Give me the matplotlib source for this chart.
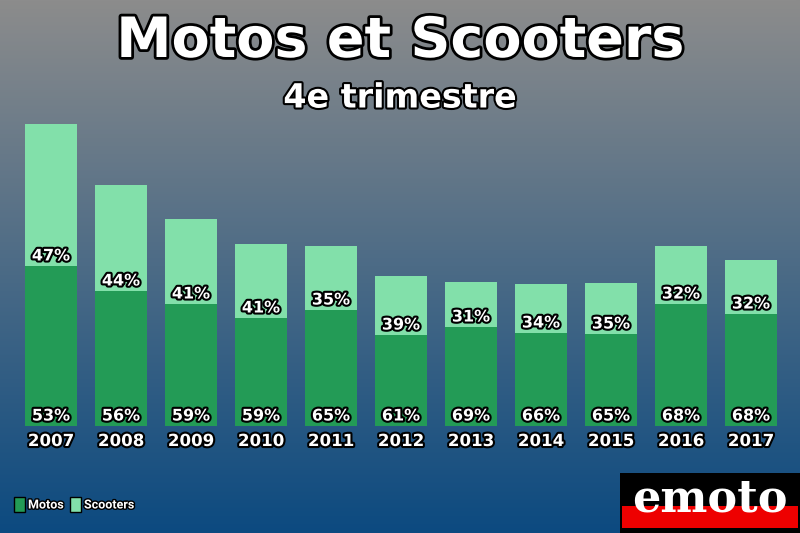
import matplotlib
matplotlib.use("Agg")
from matplotlib import pyplot as plt
import matplotlib.patheffects as pe
import numpy

years = ['2007', '2008', '2009', '2010', '2011', '2012', '2013', '2014', '2015', '2016', '2017']
motos = [160, 135, 122, 108, 116, 91, 99, 93, 92, 122, 112]
scooters = [142, 106, 85, 74, 64, 59, 45, 49, 51, 58, 54]
motos_pct = [53, 56, 59, 59, 65, 61, 69, 66, 65, 68, 68]
scooters_pct = [47, 44, 41, 41, 35, 39, 31, 34, 35, 32, 32]

W, H = 800, 533
fig = plt.figure(figsize=(8, 5.33), dpi=100)

# background gradient, gray at top to blue at bottom
bg = fig.add_axes([0, 0, 1, 1])
top = numpy.array([0x8c, 0x8c, 0x8c]) / 255
bot = numpy.array([0x0c, 0x4a, 0x80]) / 255
t = numpy.linspace(0, 1, 256)[:, None]
grad = (top * (1 - t) + bot * t)[:, None, :]
bg.imshow(grad, aspect='auto', extent=[0, W, H, 0])
bg.set_xlim(0, W)
bg.set_ylim(H, 0)
bg.axis('off')

stroke = [pe.withStroke(linewidth=3, foreground='black')]
bg.text(W / 2, 42, "Motos et Scooters", ha='center', va='center', fontsize=40,
        fontweight='bold', color='white', path_effects=[pe.withStroke(linewidth=4, foreground='black')])
bg.text(W / 2, 98, "4e trimestre", ha='center', va='center', fontsize=24,
        fontweight='bold', color='white', path_effects=stroke)

# bars
dark = '#239b56'
light = '#82e0aa'
ax = fig.add_axes([16 / W, (H - 426) / H, 770 / W, 302 / H])
ax.patch.set_alpha(0)
x = numpy.arange(len(years))
ax.bar(x, motos, width=0.73, color=dark)
ax.bar(x, scooters, bottom=motos, width=0.73, color=light)
ax.set_xlim(-0.5, len(years) - 0.5)
ax.set_ylim(0, 302)
ax.axis('off')
for i in range(len(years)):
    ax.text(i, 10, f"{motos_pct[i]}%", ha='center', va='center', fontsize=11.5,
            fontweight='bold', color='white', path_effects=stroke)
    ax.text(i, motos[i] + 10, f"{scooters_pct[i]}%", ha='center', va='center', fontsize=11.5,
            fontweight='bold', color='white', path_effects=stroke)
    ax.text(i, -15, years[i], ha='center', va='center', fontsize=12,
            fontweight='bold', color='white', path_effects=stroke)

# legend
for lx, col, lab in [(14, dark, 'Motos'), (70, light, 'Scooters')]:
    bg.add_patch(plt.Rectangle((lx, 497), 11, 15, facecolor=col, edgecolor='black', lw=1))
    bg.text(lx + 14, 505, lab, ha='left', va='center', fontsize=9, color='white',
            family='Roboto', fontweight='bold',
            path_effects=[pe.withStroke(linewidth=2, foreground='black')])

# logo
bg.add_patch(plt.Rectangle((620, 473), 180, 60, facecolor='black', edgecolor='none'))
bg.add_patch(plt.Rectangle((622, 506), 176, 22, facecolor='#ee0000', edgecolor='none'))
bg.text(710, 499, "emoto", ha='center', va='center', fontsize=32, fontweight='bold',
        family='DejaVu Serif', color='white')

plt.savefig("out.png", dpi=100)
